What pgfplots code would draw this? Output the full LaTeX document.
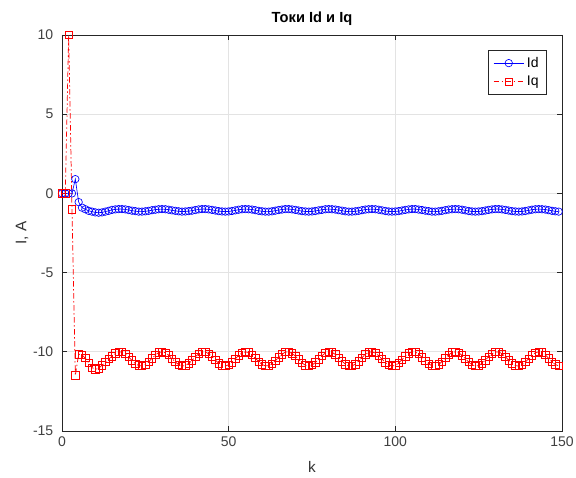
\documentclass[border=0pt]{standalone}
\usepackage{fontspec}
\setmainfont{Liberation Sans}
\usepackage{pgfplots}
\usepackage{pgfplotstable}
\pgfplotsset{compat=1.18}

% k, Id, Iq
\pgfplotstableread{
k Id Iq
0 0 0
1 0 0
2 0 10
3 0 -1.0
4 0.9 -11.5
5 -0.55 -10.15
6 -0.9 -10.2
7 -1.0 -10.4
8 -1.1 -10.7
9 -1.15 -11.0
10 -1.2 -11.1
11 -1.22 -11.05
12 -1.2 -10.85
13 -1.15 -10.65
14 -1.1 -10.45
15 -1.04 -10.29
16 -1.01 -10.11
17 -0.99 -10.01
18 -0.99 -10.02
19 -1.01 -10.14
20 -1.05 -10.33
21 -1.09 -10.55
22 -1.12 -10.75
23 -1.15 -10.87
24 -1.15 -10.89
25 -1.13 -10.81
26 -1.10 -10.63
27 -1.06 -10.41
28 -1.03 -10.20
29 -1.00 -10.05
30 -0.99 -10.00
31 -1.00 -10.06
32 -1.03 -10.21
33 -1.07 -10.43
34 -1.10 -10.64
35 -1.13 -10.81
36 -1.15 -10.90
37 -1.14 -10.87
38 -1.12 -10.74
39 -1.09 -10.54
40 -1.05 -10.31
41 -1.01 -10.13
42 -0.99 -10.02
43 -0.99 -10.01
44 -1.01 -10.12
45 -1.04 -10.30
46 -1.08 -10.52
47 -1.12 -10.73
48 -1.14 -10.86
49 -1.15 -10.90
50 -1.14 -10.82
51 -1.11 -10.66
52 -1.07 -10.44
53 -1.03 -10.23
54 -1.00 -10.07
55 -0.99 -10.00
56 -1.00 -10.05
57 -1.02 -10.19
58 -1.06 -10.40
59 -1.10 -10.62
60 -1.13 -10.80
61 -1.15 -10.89
62 -1.15 -10.88
63 -1.13 -10.76
64 -1.09 -10.57
65 -1.05 -10.34
66 -1.02 -10.15
67 -0.99 -10.02
68 -0.99 -10.01
69 -1.01 -10.10
70 -1.04 -10.27
71 -1.08 -10.49
72 -1.12 -10.70
73 -1.14 -10.85
74 -1.15 -10.90
75 -1.14 -10.84
76 -1.11 -10.68
77 -1.07 -10.47
78 -1.04 -10.25
79 -1.00 -10.08
80 -0.99 -10.00
81 -1.00 -10.03
82 -1.02 -10.17
83 -1.06 -10.37
84 -1.09 -10.59
85 -1.13 -10.78
86 -1.15 -10.89
87 -1.15 -10.89
88 -1.13 -10.78
89 -1.10 -10.59
90 -1.06 -10.37
91 -1.02 -10.17
92 -1.00 -10.03
93 -0.99 -10.00
94 -1.00 -10.08
95 -1.03 -10.25
96 -1.07 -10.46
97 -1.11 -10.68
98 -1.14 -10.84
99 -1.15 -10.90
100 -1.14 -10.85
101 -1.12 -10.71
102 -1.08 -10.50
103 -1.04 -10.28
104 -1.01 -10.10
105 -0.99 -10.01
106 -0.99 -10.02
107 -1.02 -10.14
108 -1.05 -10.34
109 -1.09 -10.56
110 -1.12 -10.76
111 -1.15 -10.88
112 -1.15 -10.89
113 -1.13 -10.80
114 -1.10 -10.62
115 -1.06 -10.40
116 -1.02 -10.19
117 -1.00 -10.05
118 -0.99 -10.00
119 -1.00 -10.06
120 -1.03 -10.22
121 -1.07 -10.43
122 -1.11 -10.65
123 -1.14 -10.82
124 -1.15 -10.90
125 -1.14 -10.87
126 -1.12 -10.73
127 -1.08 -10.53
128 -1.04 -10.31
129 -1.01 -10.12
130 -0.99 -10.01
131 -0.99 -10.01
132 -1.01 -10.12
133 -1.04 -10.31
134 -1.08 -10.53
135 -1.12 -10.73
136 -1.14 -10.87
137 -1.15 -10.90
138 -1.14 -10.82
139 -1.11 -10.65
140 -1.07 -10.43
141 -1.03 -10.22
142 -1.00 -10.06
143 -0.99 -10.00
144 -1.00 -10.05
145 -1.02 -10.20
146 -1.06 -10.41
147 -1.10 -10.63
148 -1.13 -10.80
149 -1.15 -10.89
}\currents

\definecolor{axgray}{gray}{0.15}
\definecolor{mred}{rgb}{1,0,0}
\definecolor{mblue}{rgb}{0,0,1}

\begin{document}
\begin{tikzpicture}
\begin{axis}[
    scale only axis,
    width=375pt, height=297pt,
    xmin=0, xmax=150, ymin=-15, ymax=10,
    xtick={0,50,100,150},
    ytick={-15,-10,-5,0,5,10},
    grid=major,
    major grid style={gray!22, line width=0.5pt},
    axis line style={axgray, line width=0.6pt},
    tick style={axgray, line width=0.5pt},
    tick align=inside,
    major tick length=3.5pt,
    ticklabel style={font=\fontsize{10.5}{12}\selectfont, text=black!75},
    yticklabel style={xshift=-3pt},
    xticklabel style={yshift=-1pt},
    /pgf/number format/assume math mode=true,
    title={\bfseries Токи Id и Iq},
    title style={font=\fontsize{11}{13}\selectfont,
        at={(axis description cs:0.5,1.02)}, anchor=center},
    xlabel={k},
    ylabel={I, A},
    label style={font=\fontsize{11.5}{13}\selectfont, text=black!80},
    xlabel style={at={(axis description cs:0.5,-0.091)}, anchor=center},
    ylabel style={at={(axis description cs:-0.08,0.5)}, anchor=center},
    legend style={at={(0.97,0.962)}, anchor=north east,
        font=\fontsize{10.5}{12}\selectfont, draw=axgray, line width=0.5pt,
        row sep=1pt, inner xsep=4pt, inner ysep=3pt},
    legend cell align=left,
    legend image code/.code={
        \draw[mark repeat=2, mark phase=2]
        plot coordinates {(0cm,0cm) (0.4cm,0cm) (0.8cm,0cm)};},
]
\addplot[color=mblue, line width=0.5pt, mark=o, mark size=2.8pt,
    mark options={solid, draw=mblue, line width=0.5pt}]
    table[x=k, y=Id] {\currents};
\addlegendentry{Id}
\addplot[color=mred, line width=0.55pt,
    dash pattern=on 4pt off 2pt on 1pt off 2pt,
    mark=square, mark size=2.8pt,
    mark options={solid, draw=mred, line width=0.55pt}]
    table[x=k, y=Iq] {\currents};
\addlegendentry{Iq}
\end{axis}
\pgfresetboundingbox
\path ([shift={(-46.5pt,-35.25pt)}]current axis.south west)
    rectangle ([shift={(10.5pt,26.25pt)}]current axis.north east);
\end{tikzpicture}
\end{document}
